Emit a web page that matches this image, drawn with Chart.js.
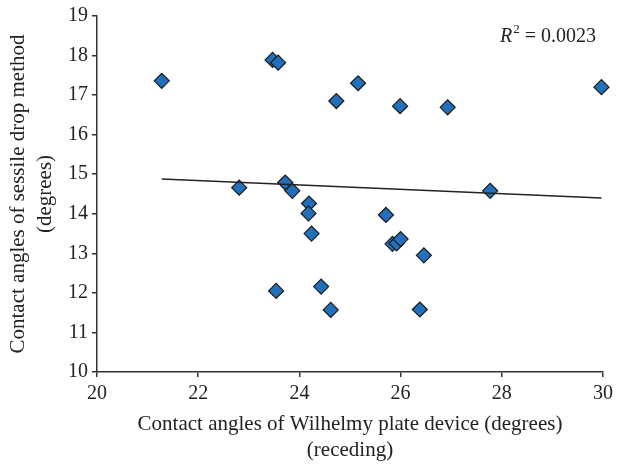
<!DOCTYPE html>
<html>
<head>
    <title>Contact angles</title>
    <script src="https://cdn.jsdelivr.net/npm/chart.js"></script>
    <style>
        body {
            margin: 0;
            background-color: #fff;
        }
        #wrap {
            width: 621px;
            height: 464px;
        }
    </style>
</head>
<body>
    <div id="wrap">
        <canvas id="myChart" width="621" height="464"></canvas>
    </div>

    <script>
        // Wilhelmy plate (receding) vs sessile drop, degrees
        const wilhelmy = [21.28, 23.47, 23.58, 25.16, 24.73, 25.99, 26.93, 29.97,
                          22.81, 23.72, 23.86, 24.19, 24.18, 24.24, 25.71, 25.84,
                          25.92, 26.00, 26.46, 27.77, 23.54, 24.43, 24.62, 26.38];
        const sessile = [17.36, 17.89, 17.82, 17.30, 16.85, 16.72, 16.69, 17.20,
                         14.66, 14.79, 14.58, 14.26, 14.01, 13.50, 13.97, 13.24,
                         13.25, 13.36, 12.95, 14.58, 12.05, 12.16, 11.57, 11.58];

        // linear trend line, end points
        const trendX = [21.28, 29.97];
        const trendY = [14.88, 14.40];

        const xTicks = [20, 22, 24, 26, 28, 30];
        const yTicks = [10, 11, 12, 13, 14, 15, 16, 17, 18, 19];
        const r2Text = '0.0023';

        const serif = "'Liberation Serif', 'DejaVu Serif', serif";
        const inkColor = '#333';

        const points = wilhelmy.map((x, i) => ({ x: x, y: sessile[i] }));
        const trend = trendX.map((x, i) => ({ x: x, y: trendY[i] }));

        // writes R^2 = ... in the upper right corner
        const r2Label = {
            id: 'r2Label',
            afterDraw(chart) {
                const c = chart.ctx;
                c.save();
                c.fillStyle = '#222';
                c.textBaseline = 'alphabetic';
                let x = 500, y = 42;
                c.font = 'italic 20px ' + serif;
                c.fillText('R', x, y);
                x += c.measureText('R').width + 1;
                c.font = '13px ' + serif;
                c.fillText('2', x, y - 9);
                x += c.measureText('2').width;
                c.font = '20px ' + serif;
                c.fillText(' = ' + r2Text, x, y);
                c.restore();
            }
        };

        const ctx = document.getElementById('myChart').getContext('2d');
        const myChart = new Chart(ctx, {
            type: 'scatter',
            data: {
                datasets: [{
                    label: 'Trend',
                    type: 'line',
                    data: trend,
                    borderColor: '#222',
                    borderWidth: 1.5,
                    pointRadius: 0,
                    fill: false,
                    order: 0
                }, {
                    label: 'Contact angles',
                    data: points,
                    pointStyle: 'rectRot',
                    pointRadius: 7.5,
                    pointHoverRadius: 7.5,
                    backgroundColor: '#2270bb',
                    borderColor: '#1a1a1a',
                    borderWidth: 1.2,
                    clip: false,
                    order: 1
                }]
            },
            options: {
                responsive: false,
                animation: false,
                layout: {
                    padding: { left: 0, right: 18, top: 16, bottom: 0 }
                },
                plugins: {
                    legend: { display: false },
                    tooltip: { enabled: false }
                },
                scales: {
                    x: {
                        type: 'linear',
                        min: 20,
                        max: 30,
                        afterFit: s => { s.height = 92; },
                        afterBuildTicks: s => { s.ticks = xTicks.map(v => ({ value: v })); },
                        ticks: {
                            color: '#222',
                            padding: 5,
                            font: { family: serif, size: 20 }
                        },
                        grid: {
                            drawOnChartArea: false,
                            tickLength: 5,
                            color: inkColor,
                            lineWidth: 1.5
                        },
                        border: { color: inkColor, width: 1.5 },
                        title: {
                            display: true,
                            text: ['Contact angles of Wilhelmy plate device (degrees)', '(receding)'],
                            color: '#222',
                            padding: 0,
                            font: { family: serif, size: 21, lineHeight: 1.24 }
                        }
                    },
                    y: {
                        min: 10,
                        max: 19,
                        afterFit: s => { s.width = 97; },
                        afterBuildTicks: s => { s.ticks = yTicks.map(v => ({ value: v })); },
                        ticks: {
                            color: '#222',
                            padding: 4,
                            font: { family: serif, size: 20 }
                        },
                        grid: {
                            drawOnChartArea: false,
                            tickLength: 5,
                            color: inkColor,
                            lineWidth: 1.5
                        },
                        border: { color: inkColor, width: 1.5 },
                        title: {
                            display: true,
                            text: ['Contact angles of sessile drop method', '(degrees)'],
                            color: '#222',
                            padding: { top: 5, bottom: 0 },
                            font: { family: serif, size: 21, lineHeight: 1.3 }
                        }
                    }
                }
            },
            plugins: [r2Label]
        });
    </script>
</body>
</html>
